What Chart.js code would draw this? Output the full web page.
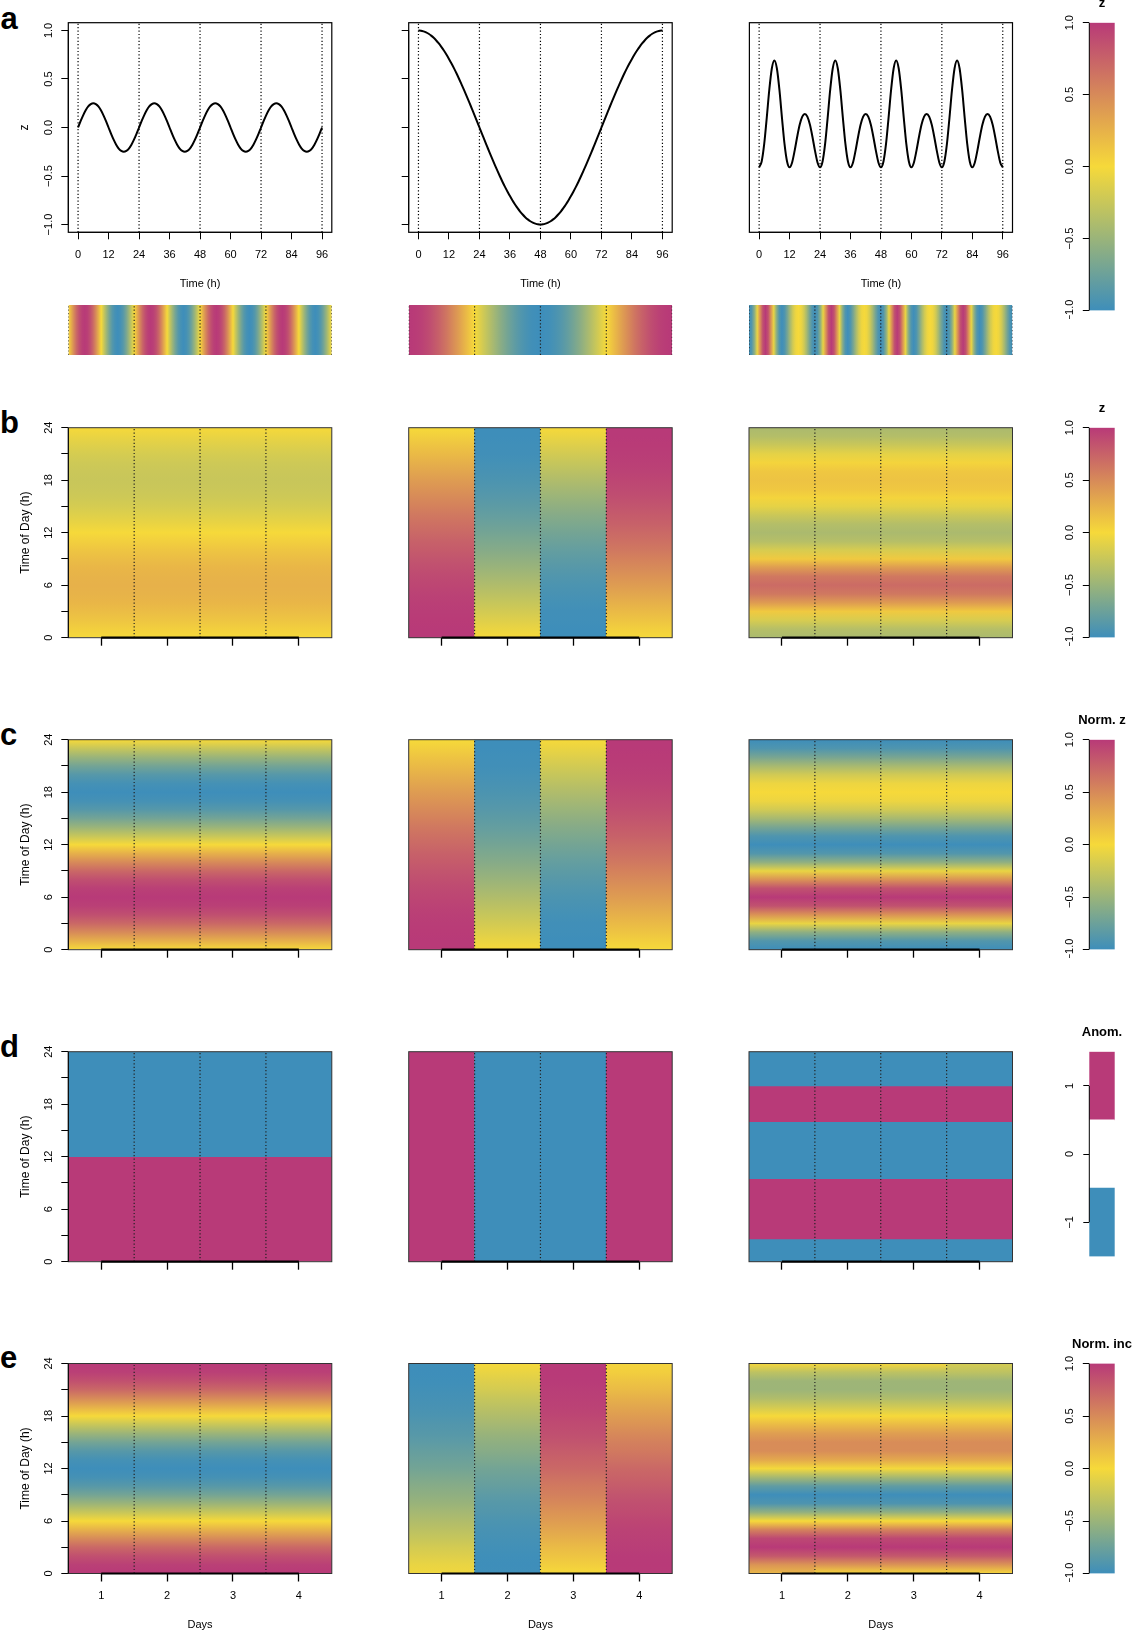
<!DOCTYPE html>
<html lang="en">
<head>
<meta charset="UTF-8">
<title>Daily cycles: z, normalised z, anomaly and increments</title>
<style>
  html, body { margin: 0; padding: 0; background: #fff; }
  #fig { position: relative; width: 1139px; height: 1633px; overflow: hidden; background: #fff;
         font-family: 'Liberation Sans', Arial, Helvetica, sans-serif; }
  #fig canvas { position: absolute; }
  .tag { position: absolute; left: 0; font-weight: bold; font-size: 31px; line-height: 31px; color: #000; }
</style>
</head>
<body>
<div id="fig">
  <div class="tag" style="top:2.7px;left:0.5px">a</div>
  <div class="tag" style="top:407px">b</div>
  <div class="tag" style="top:719px">c</div>
  <div class="tag" style="top:1031px">d</div>
  <div class="tag" style="top:1342px">e</div>
</div>
<script src="https://cdn.jsdelivr.net/npm/chart.js"></script>
<script>
// ---- data ----
const days = [1, 2, 3, 4];
const dayBreaks = [0, 24, 48, 72, 96];   // day boundaries, hours
const dayEdges = [1.5, 2.5, 3.5];        // day boundaries on the Days axis
const timeTicks = [0, 12, 24, 36, 48, 60, 72, 84, 96];
const hourTicks = [0, 3, 6, 9, 12, 15, 18, 21, 24];
const zTicks = [-1, -0.5, 0, 0.5, 1];
const anomTicks = [-1, 0, 1];
const barTitles = ['z', 'z', 'Norm. z', 'Anom.', 'Norm. inc'];

// hourly z through one day (0..24 h), same every day
const dailyZ = [0, 0.065, 0.125, 0.177, 0.217, 0.241, 0.25, 0.241, 0.217, 0.177, 0.125, 0.065, 0,
  -0.065, -0.125, -0.177, -0.217, -0.241, -0.25, -0.241, -0.217, -0.177, -0.125, -0.065, 0];
// hourly z through one day, two peaks a day
const twoPeakZ = [-0.41, -0.35, -0.169, 0.1, 0.387, 0.608, 0.69, 0.608, 0.387, 0.1, -0.169, -0.35, -0.41,
  -0.36, -0.238, -0.095, 0.03, 0.112, 0.14, 0.112, 0.03, -0.095, -0.238, -0.36, -0.41];
// hourly z over the four days, one slow cycle
const slowZ = [1.000, 0.998, 0.991, 0.981, 0.966, 0.947, 0.924, 0.897, 0.866, 0.831, 0.793, 0.752, 0.707,
  0.659, 0.609, 0.556, 0.500, 0.442, 0.383, 0.321, 0.259, 0.195, 0.131, 0.065, 0.000,
  -0.065, -0.131, -0.195, -0.259, -0.321, -0.383, -0.442, -0.500, -0.556, -0.609, -0.659, -0.707,
  -0.752, -0.793, -0.831, -0.866, -0.897, -0.924, -0.947, -0.966, -0.981, -0.991, -0.998, -1.000,
  -0.998, -0.991, -0.981, -0.966, -0.947, -0.924, -0.897, -0.866, -0.831, -0.793, -0.752, -0.707,
  -0.659, -0.609, -0.556, -0.500, -0.442, -0.383, -0.321, -0.259, -0.195, -0.131, -0.065, 0.000,
  0.065, 0.131, 0.195, 0.259, 0.321, 0.383, 0.442, 0.500, 0.556, 0.609, 0.659, 0.707,
  0.752, 0.793, 0.831, 0.866, 0.897, 0.924, 0.947, 0.966, 0.981, 0.991, 0.998, 1.000];

// anomaly sign by time-of-day segment
const anomBreaksA = [0, 12, 24];
const anomSignsA = [1, -1];
const anomDaySignsB = [1, -1, -1, 1];
const anomBreaksC = [0, 2.6, 9.5, 16, 20.1, 24];
const anomSignsC = [-1, 1, -1, 1, -1];

// ---- derived layers ----
const hours = slowZ.map((_, i) => i);
const repeatDays = prof => days.flatMap((d, i) => (i ? prof.slice(1) : prof));
const series = [repeatDays(dailyZ), slowZ, repeatDays(twoPeakZ)];

function normalize(s) {
  const lo = Math.min(...s), hi = Math.max(...s);
  return s.map(v => 2 * (v - lo) / (hi - lo) - 1);
}
function increments(s) {
  const n = s.length;
  const d = s.map((v, i) => (s[Math.min(i + 1, n - 1)] - s[Math.max(i - 1, 0)]) / (i === 0 || i === n - 1 ? 1 : 2));
  const m = Math.max(...d.map(Math.abs));
  return d.map(v => v / m);
}
const byDay = s => days.map((d, i) => s.slice(24 * i, 24 * i + 25));

const normed = series.map(normalize);
const rowLayers = [series.map(byDay), normed.map(byDay), null, series.map(increments).map(byDay)];

const anomCells = [
  days.flatMap(d => anomSignsA.map((s, j) => ({x: d, y: [anomBreaksA[j], anomBreaksA[j + 1]], s}))),
  days.map((d, i) => ({x: d, y: [0, 24], s: anomDaySignsB[i]})),
  days.flatMap(d => anomSignsC.map((s, j) => ({x: d, y: [anomBreaksC[j], anomBreaksC[j + 1]], s})))
];

// ---- colours ----
const BLUE = [62, 142, 186], YELLOW = [246, 217, 58], MAGENTA = [184, 58, 120];
const rgb = c => `rgb(${c.map(Math.round).join(',')})`;
function zColor(v) {
  const t = Math.max(0, Math.min(1, (v + 1) / 2)) * 2;
  const [a, b, f] = t >= 1 ? [YELLOW, MAGENTA, t - 1] : [BLUE, YELLOW, t];
  return rgb(a.map((c, k) => c + (b[k] - c) * f));
}
const signColor = s => (s > 0 ? rgb(MAGENTA) : s < 0 ? rgb(BLUE) : '#fff');

function ramp(chart, vals, axis, v0, v1) {
  const {ctx, chartArea} = chart;
  const s = chart.scales[axis];
  if (!chartArea || !s || !vals) return 'rgba(0,0,0,0)';
  const p0 = s.getPixelForValue(v0), p1 = s.getPixelForValue(v1);
  if (!isFinite(p0) || !isFinite(p1) || p0 === p1) return 'rgba(0,0,0,0)';
  const g = axis === 'x' ? ctx.createLinearGradient(p0, 0, p1, 0) : ctx.createLinearGradient(0, p0, 0, p1);
  vals.forEach((v, i) => g.addColorStop(i / (vals.length - 1), zColor(v)));
  return g;
}

// ---- chart setup ----
const FONT = "'Liberation Sans', Arial, Helvetica, sans-serif";
Chart.defaults.font.family = FONT;
Chart.defaults.font.size = 11;
Chart.defaults.color = '#000';
Chart.defaults.animation = false;
Chart.defaults.responsive = false;
Chart.defaults.events = [];
Chart.defaults.plugins.legend.display = false;
Chart.defaults.plugins.tooltip.enabled = false;

// box around the plotting area
Chart.register({
  id: 'frame',
  defaults: {width: 0, color: '#000'},
  afterDraw(chart, args, opts) {
    if (!opts.width) return;
    const {ctx, chartArea: a} = chart;
    ctx.save();
    ctx.strokeStyle = opts.color;
    ctx.lineWidth = opts.width;
    ctx.strokeRect(a.left, a.top, a.right - a.left, a.bottom - a.top);
    ctx.restore();
  }
});

// axis line running from the first tick to the last one
Chart.register({
  id: 'axisLine',
  defaults: {x: 0, y: 0},
  afterDraw(chart, args, opts) {
    const {ctx, chartArea: a} = chart;
    ctx.save();
    ctx.strokeStyle = '#000';
    for (const id of ['x', 'y']) {
      const s = chart.scales[id];
      if (!opts[id] || !s || !s.ticks.length) continue;
      const p0 = s.getPixelForValue(s.ticks[0].value);
      const p1 = s.getPixelForValue(s.ticks[s.ticks.length - 1].value);
      ctx.lineWidth = opts[id];
      ctx.beginPath();
      if (id === 'x') { ctx.moveTo(p0, a.bottom); ctx.lineTo(p1, a.bottom); }
      else { ctx.moveTo(a.left, p0); ctx.lineTo(a.left, p1); }
      ctx.stroke();
    }
    ctx.restore();
  }
});

// colour bar heading
Chart.register({
  id: 'barTitle',
  defaults: {text: '', gap: 19},
  afterDraw(chart, args, opts) {
    if (!opts.text) return;
    const {ctx, chartArea: a} = chart;
    ctx.save();
    ctx.font = `bold 13px ${FONT}`;
    ctx.fillStyle = '#000';
    ctx.textAlign = 'center';
    ctx.textBaseline = 'middle';
    ctx.fillText(opts.text, (a.left + a.right) / 2, a.top - opts.gap);
    ctx.restore();
  }
});

const signed = v => (v < 0 ? '\u2212' : '') + Math.abs(v).toFixed(1);

function yAxis({min, max, ticks, label, width = 0, tickLen = 7, pad = 1, title = '', titlePad = 0, show = true}) {
  return {
    type: 'linear', display: show, min, max,
    afterBuildTicks: s => { s.ticks = ticks.map(value => ({value})); },
    afterFit: s => { s.width = width; },
    border: {display: false},
    grid: {drawOnChartArea: false, drawTicks: true, tickLength: tickLen, tickColor: '#000', tickWidth: 1},
    ticks: {autoSkip: false, minRotation: 90, maxRotation: 90, crossAlign: 'center', padding: pad,
            font: {size: 11}, color: '#000', callback: v => (label ? label(v) : '')},
    title: {display: !!title, text: title, font: {size: 12}, color: '#000', padding: {top: titlePad, bottom: 0}}
  };
}

function xAxis({min, max, ticks, label, height, tickLen = 7, tickWidth = 1, pad = 9, title = '', titlePad = 0}) {
  return {
    type: 'linear', position: 'bottom', min, max, offset: false,
    afterBuildTicks: s => { s.ticks = ticks.map(value => ({value})); },
    afterFit: s => { s.height = height; },
    border: {display: false},
    grid: {offset: false, drawOnChartArea: false, drawTicks: true, tickLength: tickLen, tickColor: '#000', tickWidth},
    ticks: {autoSkip: false, minRotation: 0, maxRotation: 0, padding: pad,
            font: {size: 11}, color: '#000', callback: v => (label ? label(v) : '')},
    title: {display: !!title, text: title, font: {size: 11}, color: '#000', padding: {top: 0, bottom: titlePad}}
  };
}

const fig = document.getElementById('fig');
const FIG_W = 1139, FIG_H = 1633;

// place a canvas so that the chart area lands exactly on box
function mount(box, room, config) {
  const x0 = Math.max(0, Math.floor(box.l - room.l));
  const y0 = Math.max(0, Math.floor(box.t - room.t));
  const x1 = Math.min(FIG_W, Math.ceil(box.l + box.w + room.r));
  const y1 = Math.min(FIG_H, Math.ceil(box.t + box.h + room.b));
  const cv = document.createElement('canvas');
  cv.width = x1 - x0;
  cv.height = y1 - y0;
  cv.style.left = x0 + 'px';
  cv.style.top = y0 + 'px';
  fig.appendChild(cv);
  const yW = room.yW || 0, xH = room.xH || 0;
  config.options.layout = {
    autoPadding: false,
    padding: {
      left: box.l - x0 - yW,
      top: box.t - y0,
      right: x1 - box.l - box.w,
      bottom: y1 - box.t - box.h - xH
    }
  };
  return new Chart(cv, config);
}

// ---- layout ----
const colLeft = [68.3, 408.7, 749];
const boxW = 263.5;
const lineBox = {t: 22.7, h: 209.6};
const stripBox = {t: 305, h: 50};
const rowTop = [427.7, 739.7, 1051.7, 1363.5];
const rowH = 210;
const barBox = {l: 1089.3, w: 25.4};
const timeRange = [-3.84, 99.84];
const zRange = [-1.08, 1.08];

const dotted = (xs, y0, y1, color) => xs.map(b => ({
  type: 'line', data: [{x: b, y: y0}, {x: b, y: y1}], borderColor: color, borderWidth: 1.2,
  borderDash: [1.2, 2.2], pointRadius: 0, order: 1
}));

// row a: time series
series.forEach((s, ci) => {
  const box = {l: colLeft[ci], t: lineBox.t, w: boxW, h: lineBox.h};
  const yW = [60, 10, 0][ci];
  mount(box, {l: yW + 2, t: 23, r: 12, b: 62, yW, xH: 60}, {
    type: 'line',
    data: {datasets: [
      {data: hours.map((t, i) => ({x: t, y: s[i]})), borderColor: '#000', borderWidth: 2, pointRadius: 0,
       cubicInterpolationMode: 'monotone', order: 0},
      ...dotted(dayBreaks, zRange[0], zRange[1], '#000')
    ]},
    options: {
      scales: {
        x: xAxis({min: timeRange[0], max: timeRange[1], ticks: timeTicks, label: v => String(v), height: 60,
                  tickLen: 7, pad: 9, title: 'Time (h)', titlePad: 60 - 51.7 - 6.6}),
        y: yAxis({min: zRange[0], max: zRange[1], ticks: zTicks, label: ci === 0 ? signed : null, width: yW,
                  tickLen: 7, pad: 1.2, title: ci === 0 ? 'z' : '', titlePad: 60 - 44 - 7.2, show: ci !== 2})
      },
      plugins: {frame: {width: 1.2, color: '#000'}, axisLine: {x: 1, y: ci === 2 ? 0 : 1}}
    }
  });
});

// row a: colour strips of the normalised series
normed.forEach((vals, ci) => {
  const box = {l: colLeft[ci], t: stripBox.t, w: boxW, h: stripBox.h};
  mount(box, {l: 2, t: 2, r: 2, b: 2}, {
    type: 'line',
    data: {datasets: [
      {data: [{x: hours[0], y: 1}, {x: hours[hours.length - 1], y: 1}], fill: 'start', borderWidth: 0,
       borderColor: 'rgba(0,0,0,0)', pointRadius: 0, backgroundColor: c => ramp(c.chart, vals, 'x', hours[0], hours[hours.length - 1]), order: 2},
      ...dotted(dayBreaks, 0, 1, '#222')
    ]},
    options: {
      scales: {
        x: {type: 'linear', display: false, min: hours[0], max: hours[hours.length - 1]},
        y: {type: 'linear', display: false, min: 0, max: 1}
      }
    }
  });
});

// rows b-e: day x time-of-day heat maps
rowTop.forEach((top, ri) => {
  const last = ri === rowTop.length - 1;
  const xH = last ? 60 : 12;
  [0, 1, 2].forEach(ci => {
    const box = {l: colLeft[ci], t: top, w: boxW, h: rowH};
    const yW = ci === 0 ? 60 : 0;
    let bars;
    if (rowLayers[ri]) {
      const layer = rowLayers[ri][ci];
      bars = {data: days.map(d => ({x: d, y: [0, 24]})),
              backgroundColor: c => ramp(c.chart, layer[c.dataIndex], 'y', 0, 24)};
    } else {
      bars = {data: anomCells[ci], backgroundColor: anomCells[ci].map(c => signColor(c.s))};
    }
    mount(box, {l: yW + 2, t: 16, r: 4, b: xH + 2, yW, xH}, {
      type: 'bar',
      data: {datasets: [
        Object.assign(bars, {borderWidth: 0, barPercentage: 1, categoryPercentage: 1, order: 2}),
        ...dotted(dayEdges, 0, 24, '#222')
      ]},
      options: {
        scales: {
          x: xAxis({min: 0.5, max: 4.5, ticks: days, label: last ? v => String(v) : null, height: xH,
                    tickLen: 8, tickWidth: 1.3, pad: 8, title: last ? 'Days' : '', titlePad: 60 - 51 - 6.6}),
          y: yAxis({min: 0, max: 24, ticks: hourTicks, label: v => (v % 6 === 0 ? String(v) : ''), width: yW,
                    tickLen: 7, pad: 5.9, title: 'Time of Day (h)', titlePad: 60 - 43 - 7.2, show: ci === 0})
        },
        plugins: {frame: {width: 1, color: '#333'}, axisLine: {x: 2.2, y: ci === 0 ? 1 : 0}}
      }
    });
  });
});

// colour bars
const barTops = [lineBox.t, ...rowTop];
const barHeights = [311 - lineBox.t, rowH, rowH, rowH, rowH];
barTops.forEach((top, bi) => {
  const box = {l: barBox.l, t: top, w: barBox.w, h: barHeights[bi]};
  const isAnom = barTitles[bi] === 'Anom.';
  const datasets = isAnom
    ? anomTicks.map(v => ({data: [[v - 0.5, v + 0.5]], backgroundColor: signColor(v), grouped: false,
                           borderWidth: 0, barPercentage: 1, categoryPercentage: 1}))
    : [{data: [[zTicks[0], zTicks[zTicks.length - 1]]], borderWidth: 0, barPercentage: 1, categoryPercentage: 1,
        backgroundColor: c => ramp(c.chart, zTicks, 'y', zTicks[0], zTicks[zTicks.length - 1])}];
  const y = isAnom
    ? yAxis({min: -1.5, max: 1.5, ticks: anomTicks, label: v => (v < 0 ? '\u2212' : '') + Math.abs(v),
             width: 30, tickLen: 6, pad: 7})
    : yAxis({min: zTicks[0], max: zTicks[zTicks.length - 1], ticks: zTicks, label: signed,
             width: 30, tickLen: 6.5, pad: 1.9});
  mount(box, {l: 32, t: 30, r: 25, b: 8, yW: 30}, {
    type: 'bar',
    data: {labels: [''], datasets},
    options: {
      scales: {x: {display: false}, y},
      plugins: {barTitle: {text: barTitles[bi], gap: 19}, axisLine: {y: 1}}
    }
  });
});
</script>
</body>
</html>
